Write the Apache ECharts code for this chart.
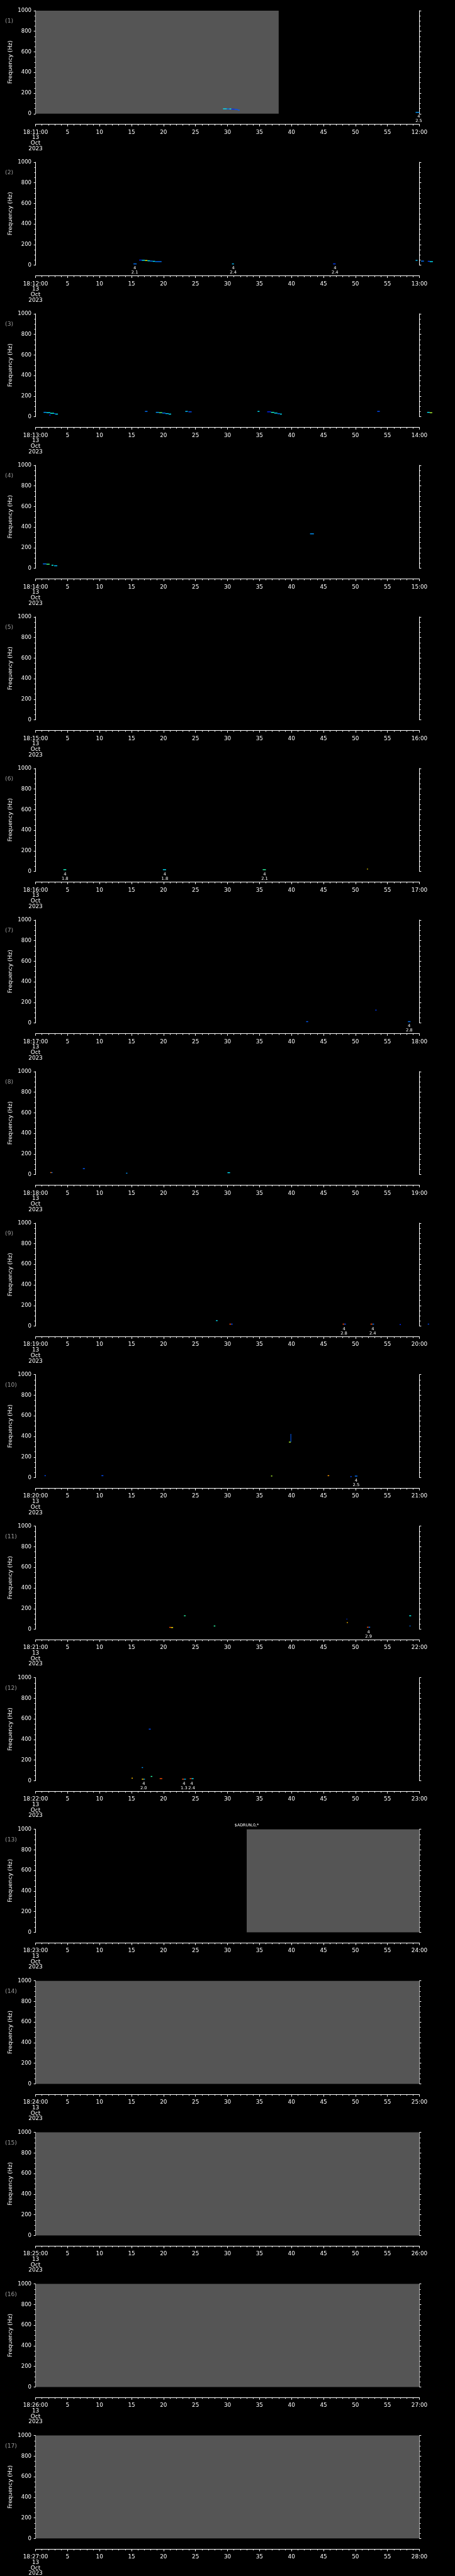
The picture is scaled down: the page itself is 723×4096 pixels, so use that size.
<!DOCTYPE html>
<html>
<head>
<meta charset="utf-8">
<style>
  html, body { margin: 0; padding: 0; background: #000; }
  #chart { width: 723px; height: 4096px; }
</style>
<script src="https://cdn.jsdelivr.net/npm/echarts@6/dist/echarts.min.js"></script>
</head>
<body>
<div id="chart"></div>
<script>
// reference is 1024 wide, page is 723
var S = 723 / 1024;
var FONT = 'DejaVu Sans';

// left / right tick label of each one-minute panel
var startLabels = ['18:11:00', '18:12:00', '18:13:00', '18:14:00', '18:15:00', '18:16:00',
  '18:17:00', '18:18:00', '18:19:00', '18:20:00', '18:21:00', '18:22:00', '18:23:00',
  '18:24:00', '18:25:00', '18:26:00', '18:27:00'];
var endLabels = ['12:00', '13:00', '14:00', '15:00', '16:00', '17:00', '18:00', '19:00',
  '20:00', '21:00', '22:00', '23:00', '24:00', '25:00', '26:00', '27:00', '28:00'];
var dateLines = ['13', 'Oct', '2023'];

// no data (grey): [panel, fromSec, toSec]
var gaps = [[1, 0, 38], [13, 33, 60], [14, 0, 60], [15, 0, 60], [16, 0, 60], [17, 0, 60]];

// spectrogram streaks: [panel, fromSec, toSec, freqHz, intensity 0..1]
var streaks = [
  [1, 29.3, 29.9, 47, 0.3], [1, 29.9, 30.3, 46, 0.15], [1, 30.3, 30.6, 46, 0.3],
  [1, 30.6, 31.1, 44, 0.06], [1, 31.1, 31.6, 41, 0.1], [1, 31.6, 31.9, 35, 0.12],
  [1, 59.4, 60.0, 13, 0.2],
  [2, 15.3, 15.8, 13, 0.15], [2, 16.2, 16.6, 50, 0.05], [2, 16.6, 17.1, 48, 0.3],
  [2, 17.1, 17.5, 46, 0.65], [2, 17.5, 17.9, 43, 0.3], [2, 17.9, 18.3, 40, 0.15],
  [2, 18.3, 18.7, 38, 0.3], [2, 18.7, 19.7, 35, 0.15], [2, 30.7, 31.0, 13, 0.25],
  [2, 46.5, 46.9, 13, 0.08], [2, 59.4, 59.7, 47, 0.25], [2, 60.25, 60.7, 40, 0.15],
  [2, 61.3, 61.6, 38, 0.08], [2, 61.6, 62.1, 35, 0.3],
  [3, 1.25, 1.7, 43, 0.2], [3, 1.7, 2.3, 40, 0.3], [3, 2.15, 2.35, 17, 0.05],
  [3, 2.3, 2.9, 34, 0.35], [3, 2.9, 3.1, 30, 0.1], [3, 3.1, 3.5, 26, 0.3],
  [3, 17.1, 17.5, 52, 0.15], [3, 18.8, 19.3, 43, 0.2], [3, 19.3, 19.8, 40, 0.5],
  [3, 19.8, 20.3, 36, 0.15], [3, 20.3, 20.8, 31, 0.25], [3, 20.8, 21.2, 26, 0.3],
  [3, 23.4, 23.8, 52, 0.25], [3, 23.9, 24.4, 48, 0.1], [3, 34.7, 35.0, 52, 0.3],
  [3, 36.2, 36.8, 48, 0.05], [3, 36.8, 37.3, 43, 0.4], [3, 37.3, 37.8, 36, 0.3],
  [3, 37.8, 38.2, 30, 0.15], [3, 38.2, 38.5, 26, 0.3], [3, 53.4, 53.8, 52, 0.1],
  [3, 61.2, 61.6, 43, 0.3], [3, 61.6, 62.0, 39, 0.6],
  [4, 1.15, 1.7, 43, 0.15], [4, 1.7, 2.2, 40, 0.5], [4, 2.5, 2.8, 30, 0.35],
  [4, 2.9, 3.4, 25, 0.25], [4, 42.9, 43.5, 335, 0.2],
  [6, 4.35, 4.8, 17, 0.4], [6, 19.9, 20.4, 17, 0.3], [6, 35.5, 36.0, 17, 0.45],
  [6, 51.8, 51.95, 23, 0.7],
  [7, 42.3, 42.6, 13, 0.12], [7, 53.1, 53.3, 125, 0.08], [7, 58.2, 58.6, 13, 0.15],
  [8, 2.3, 2.5, 19, 0.85], [8, 2.5, 2.65, 19, 0.15], [8, 7.4, 7.7, 57, 0.12],
  [8, 14.15, 14.35, 13, 0.2], [8, 30.0, 30.4, 18, 0.3],
  [9, 28.2, 28.45, 53, 0.3], [9, 30.3, 30.55, 19, 0.9], [9, 30.55, 30.8, 19, 0.1],
  [9, 48.0, 48.25, 19, 0.9], [9, 48.25, 48.5, 19, 0.1], [9, 52.35, 52.65, 19, 0.9],
  [9, 52.65, 52.9, 19, 0.15], [9, 56.9, 57.1, 15, 0.05], [9, 61.3, 61.5, 19, 0.1],
  [10, 1.4, 1.6, 19, 0.1], [10, 10.3, 10.6, 19, 0.1], [10, 36.8, 37.0, 16, 0.6],
  [10, 39.6, 39.9, 345, 0.6], [10, 45.65, 45.9, 19, 0.8], [10, 49.2, 49.4, 10, 0.1],
  [10, 49.9, 50.3, 15, 0.15],
  [11, 20.9, 21.15, 18, 0.9], [11, 21.15, 21.5, 16, 0.7], [11, 23.2, 23.45, 130, 0.45],
  [11, 27.85, 28.1, 31, 0.45], [11, 48.6, 48.7, 98, 0.08], [11, 48.65, 48.8, 64, 0.75],
  [11, 51.8, 52.05, 19, 0.9], [11, 52.05, 52.3, 19, 0.15], [11, 58.4, 58.7, 130, 0.35],
  [11, 58.45, 58.6, 31, 0.15],
  [12, 17.7, 18.0, 501, 0.1], [12, 16.6, 16.8, 128, 0.2], [12, 15.0, 15.2, 25, 0.75],
  [12, 16.6, 16.9, 15, 0.75], [12, 16.9, 17.1, 15, 0.25], [12, 18.0, 18.25, 42, 0.45],
  [12, 19.4, 19.8, 20, 0.9], [12, 22.9, 23.2, 15, 0.9], [12, 23.2, 23.5, 15, 0.25],
  [12, 24.1, 24.4, 20, 0.9], [12, 24.4, 24.7, 20, 0.3]
];

// vertical streaks: [panel, sec, freqLow, freqHigh, intensity]
var spikes = [[10, 39.85, 346, 425, 0.12]];

// event marks under the plot: [panel, sec, upper, lower]
var events = [
  [1, 59.9, '4', '2.5'], [2, 15.5, '4', '2.1'], [2, 30.9, '4', '2.4'], [2, 46.8, '4', '2.4'],
  [6, 4.6, '4', '1.8'], [6, 20.2, '4', '1.8'], [6, 35.8, '4', '2.1'], [7, 58.4, '4', '2.8'],
  [9, 48.2, '4', '2.8'], [9, 52.7, '4', '2.4'], [10, 50.1, '4', '2.5'], [11, 52.05, '4', '2.9'],
  [12, 16.9, '4', '2.0'], [12, 23.2, '4', '1.3'], [12, 24.4, '4', '2.4']
];

// notes above the plot: [panel, sec, text]
var notes = [[13, 33, '$ADRUN,0,*']];

var jet = ['#0000ff', '#0080ff', '#00ffff', '#40ff80', '#ffff00', '#ff8000', '#ff0000'];

function rowsOf(list, p) {
  return list.filter(function (r) { return r[0] === p; }).map(function (r) { return r.slice(1); });
}
function wl() { return { color: '#fff', width: 1 }; }

var grids = [], xAxes = [], yAxes = [], series = [], graphics = [], colored = [];

for (var i = 0; i < 17; i++) {
  var p = i + 1;
  // careful: a global "top" is window.top
  var panelTop = (24 + i * 341.3) * S;
  grids.push({ left: 80 * S, top: panelTop, width: 864 * S, height: 232 * S, outerBoundsMode: 'none' });

  xAxes.push({
    gridIndex: i, type: 'value', min: 0, max: 60, interval: 5, offset: 24 * S,
    axisLine: { show: true, onZero: false, lineStyle: wl() },
    axisTick: { show: true, length: 4.7 * S, lineStyle: wl() },
    minorTick: { show: true, splitNumber: 5, length: 2.7 * S, lineStyle: wl() },
    splitLine: { show: false },
    axisLabel: {
      color: '#fff', fontFamily: FONT, fontSize: 12.5 * S, lineHeight: 12.3 * S,
      margin: 11.8 * S, showMinLabel: true, showMaxLabel: true,
      formatter: (function (k) {
        return function (v) {
          if (v === 0) return [startLabels[k]].concat(dateLines).join('\n');
          if (v === 60) return endLabels[k];
          return String(v);
        };
      })(i)
    }
  });

  for (var side = 0; side < 2; side++) {
    yAxes.push({
      gridIndex: i, type: 'value', min: 0, max: 1000, interval: 200,
      position: side ? 'right' : 'left',
      axisLine: { show: true, onZero: false, lineStyle: wl() },
      axisTick: { show: true, length: 4 * S, lineStyle: wl() },
      minorTick: { show: true, splitNumber: 4, length: 2.7 * S, lineStyle: wl() },
      splitLine: { show: false },
      axisLabel: side ? { show: false } : {
        color: '#fff', fontFamily: FONT, fontSize: 12 * S, margin: 9.3 * S,
        formatter: function (v) { return String(v); }
      }
    });
  }

  var common = { type: 'custom', coordinateSystem: 'cartesian2d', xAxisIndex: i, yAxisIndex: 2 * i, silent: true };

  var g = rowsOf(gaps, p);
  if (g.length) {
    series.push(Object.assign({}, common, {
      data: g, z: 1,
      renderItem: function (params, api) {
        var a = api.coord([api.value(0), 1000]), b = api.coord([api.value(1), 0]);
        return { type: 'rect', shape: { x: a[0], y: a[1], width: b[0] - a[0], height: b[1] - a[1] }, style: { fill: '#555555' } };
      }
    }));
  }

  var st = rowsOf(streaks, p);
  if (st.length) {
    colored.push(series.length);
    series.push(Object.assign({}, common, {
      data: st, z: 3,
      renderItem: function (params, api) {
        var a = api.coord([api.value(0), api.value(2)]), b = api.coord([api.value(1), api.value(2)]);
        var h = 2 * S;
        return { type: 'rect', shape: { x: a[0], y: a[1] - h / 2, width: Math.max(b[0] - a[0], 1), height: h }, style: { fill: api.visual('color') } };
      }
    }));
  }

  var sp = rowsOf(spikes, p);
  if (sp.length) {
    colored.push(series.length);
    series.push(Object.assign({}, common, {
      data: sp, z: 3,
      renderItem: function (params, api) {
        var a = api.coord([api.value(0), api.value(2)]), b = api.coord([api.value(0), api.value(1)]);
        return { type: 'rect', shape: { x: a[0], y: a[1], width: 1, height: b[1] - a[1] }, style: { fill: api.visual('color') } };
      }
    }));
  }

  var ev = rowsOf(events, p);
  if (ev.length) {
    series.push(Object.assign({}, common, {
      data: ev.map(function (r) { return [r[0], 0]; }), z: 4,
      renderItem: (function (rows) {
        return function (params, api) {
          var r = rows[params.dataIndex];
          var a = api.coord([r[0], 0]);
          return { type: 'group', children: [
            { type: 'text', x: a[0], y: a[1] + 6.5 * S, style: { text: r[1], fill: '#fff', fontFamily: FONT, fontSize: 9.5 * S, align: 'center', verticalAlign: 'middle' } },
            { type: 'text', x: a[0], y: a[1] + 16.5 * S, style: { text: r[2], fill: '#fff', fontFamily: FONT, fontSize: 9.5 * S, align: 'center', verticalAlign: 'middle' } }
          ] };
        };
      })(ev)
    }));
  }

  var nt = rowsOf(notes, p);
  if (nt.length) {
    series.push(Object.assign({}, common, {
      data: nt.map(function (r) { return [r[0], 1000]; }), z: 4,
      renderItem: (function (rows) {
        return function (params, api) {
          var r = rows[params.dataIndex];
          var a = api.coord([r[0], 1000]);
          return { type: 'text', x: a[0], y: a[1] - 9 * S, style: { text: r[1], fill: '#fff', fontFamily: FONT, fontSize: 9 * S, align: 'center', verticalAlign: 'middle' } };
        };
      })(nt)
    }));
  }

  graphics.push({
    type: 'text', x: 11.5 * S, y: panelTop + 23.5 * S,
    style: { text: '(' + p + ')', fill: '#9a9a9a', fontFamily: FONT, fontSize: 13 * S, align: 'left', verticalAlign: 'middle' }
  });
  graphics.push({
    type: 'text', x: 23.5 * S, y: panelTop + 116 * S, rotation: Math.PI / 2,
    style: { text: 'Frequency (Hz)', fill: '#fff', fontFamily: FONT, fontSize: 13 * S, align: 'center', verticalAlign: 'middle' }
  });
}

var chart = echarts.init(document.getElementById('chart'));
chart.setOption({
  backgroundColor: '#000',
  animation: false,
  grid: grids,
  xAxis: xAxes,
  yAxis: yAxes,
  visualMap: {
    type: 'continuous', show: false, min: 0, max: 1, dimension: 3,
    seriesIndex: colored, inRange: { color: jet }
  },
  graphic: graphics,
  series: series
});
</script>
</body>
</html>
